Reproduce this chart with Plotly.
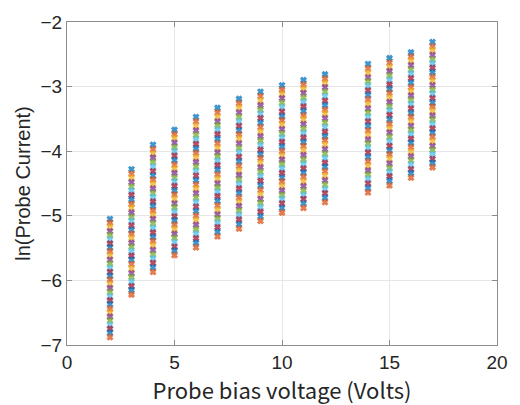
import plotly.graph_objects as go

voltages = [2, 3, 4, 5, 6, 7, 8, 9, 10, 11, 12, 14, 15, 16, 17]

col_2 = [-5.05, -5.11, -5.18, -5.24, -5.30, -5.37, -5.43, -5.49, -5.55, -5.62, -5.68, -5.74, -5.81, -5.87, -5.93,
         -5.99, -6.06, -6.12, -6.18, -6.25, -6.31, -6.37, -6.44, -6.50, -6.56, -6.62, -6.69, -6.75, -6.81, -6.88]
col_3 = [-4.28, -4.35, -4.41, -4.48, -4.55, -4.61, -4.68, -4.75, -4.82, -4.88, -4.95, -5.02, -5.08, -5.15, -5.22,
         -5.28, -5.35, -5.42, -5.48, -5.55, -5.62, -5.68, -5.75, -5.82, -5.89, -5.95, -6.02, -6.09, -6.15, -6.22]
col_4 = [-3.90, -3.97, -4.04, -4.10, -4.17, -4.24, -4.31, -4.38, -4.44, -4.51, -4.58, -4.65, -4.71, -4.78, -4.85,
         -4.92, -4.99, -5.05, -5.12, -5.19, -5.26, -5.33, -5.39, -5.46, -5.53, -5.60, -5.66, -5.73, -5.80, -5.87]
col_5 = [-3.67, -3.74, -3.80, -3.87, -3.94, -4.00, -4.07, -4.14, -4.21, -4.27, -4.34, -4.41, -4.47, -4.54, -4.61,
         -4.67, -4.74, -4.81, -4.87, -4.94, -5.01, -5.07, -5.14, -5.21, -5.28, -5.34, -5.41, -5.48, -5.54, -5.61]
col_6 = [-3.47, -3.54, -3.61, -3.68, -3.75, -3.82, -3.89, -3.96, -4.03, -4.10, -4.17, -4.24, -4.31, -4.38, -4.45,
         -4.52, -4.58, -4.65, -4.72, -4.79, -4.86, -4.93, -5.00, -5.07, -5.14, -5.21, -5.28, -5.35, -5.42, -5.49]
col_7 = [-3.33, -3.40, -3.47, -3.54, -3.60, -3.67, -3.74, -3.81, -3.88, -3.95, -4.02, -4.08, -4.15, -4.22, -4.29,
         -4.36, -4.43, -4.50, -4.56, -4.63, -4.70, -4.77, -4.84, -4.91, -4.98, -5.04, -5.11, -5.18, -5.25, -5.32]
col_8 = [-3.19, -3.26, -3.33, -3.40, -3.47, -3.54, -3.61, -3.68, -3.74, -3.81, -3.88, -3.95, -4.02, -4.09, -4.16,
         -4.23, -4.30, -4.37, -4.44, -4.51, -4.58, -4.65, -4.72, -4.79, -4.85, -4.92, -4.99, -5.06, -5.13, -5.20]
col_9 = [-3.08, -3.15, -3.22, -3.29, -3.36, -3.42, -3.49, -3.56, -3.63, -3.70, -3.77, -3.84, -3.91, -3.98, -4.05,
         -4.11, -4.18, -4.25, -4.32, -4.39, -4.46, -4.53, -4.60, -4.67, -4.74, -4.80, -4.87, -4.94, -5.01, -5.08]
col_10 = [-2.98, -3.05, -3.12, -3.18, -3.25, -3.32, -3.39, -3.46, -3.52, -3.59, -3.66, -3.73, -3.79, -3.86, -3.93,
          -4.00, -4.07, -4.13, -4.20, -4.27, -4.34, -4.41, -4.47, -4.54, -4.61, -4.68, -4.74, -4.81, -4.88, -4.95]
col_11 = [-2.90, -2.97, -3.04, -3.10, -3.17, -3.24, -3.31, -3.38, -3.45, -3.51, -3.58, -3.65, -3.72, -3.79, -3.86,
          -3.92, -3.99, -4.06, -4.13, -4.20, -4.27, -4.33, -4.40, -4.47, -4.54, -4.61, -4.68, -4.74, -4.81, -4.88]
col_12 = [-2.81, -2.88, -2.95, -3.01, -3.08, -3.15, -3.22, -3.29, -3.36, -3.42, -3.49, -3.56, -3.63, -3.70, -3.77,
          -3.83, -3.90, -3.97, -4.04, -4.11, -4.18, -4.24, -4.31, -4.38, -4.45, -4.52, -4.59, -4.65, -4.72, -4.79]
col_14 = [-2.65, -2.72, -2.79, -2.86, -2.92, -2.99, -3.06, -3.13, -3.20, -3.27, -3.34, -3.40, -3.47, -3.54, -3.61,
          -3.68, -3.75, -3.82, -3.88, -3.95, -4.02, -4.09, -4.16, -4.23, -4.30, -4.36, -4.43, -4.50, -4.57, -4.64]
col_15 = [-2.56, -2.63, -2.70, -2.76, -2.83, -2.90, -2.97, -3.04, -3.10, -3.17, -3.24, -3.31, -3.37, -3.44, -3.51,
          -3.58, -3.65, -3.71, -3.78, -3.85, -3.92, -3.99, -4.05, -4.12, -4.19, -4.26, -4.32, -4.39, -4.46, -4.53]
col_16 = [-2.47, -2.54, -2.60, -2.67, -2.74, -2.80, -2.87, -2.94, -3.01, -3.07, -3.14, -3.21, -3.27, -3.34, -3.41,
          -3.47, -3.54, -3.61, -3.67, -3.74, -3.81, -3.87, -3.94, -4.01, -4.08, -4.14, -4.21, -4.28, -4.34, -4.41]
col_17 = [-2.31, -2.38, -2.44, -2.51, -2.58, -2.64, -2.71, -2.78, -2.85, -2.91, -2.98, -3.05, -3.11, -3.18, -3.25,
          -3.31, -3.38, -3.45, -3.51, -3.58, -3.65, -3.71, -3.78, -3.85, -3.92, -3.98, -4.05, -4.12, -4.18, -4.25]

columns = [col_2, col_3, col_4, col_5, col_6, col_7, col_8, col_9, col_10, col_11, col_12,
           col_14, col_15, col_16, col_17]

matlab_colors = ["#0072BD", "#D95319", "#EDB120", "#7E2F8E", "#77AC30", "#4DBEEE", "#A2142F"]

fig = go.Figure()
n_series = len(col_2)
for j in range(n_series):
    fig.add_trace(go.Scatter(
        x=voltages,
        y=[c[j] for c in columns],
        mode="markers",
        marker=dict(symbol="x-thin", size=5, line=dict(width=3, color=matlab_colors[j % 7])),
        opacity=0.75,
        showlegend=False,
        hoverinfo="skip",
    ))

axis_common = dict(
    showline=True, mirror="ticks", linecolor="#8c8c8c", linewidth=1,
    showgrid=True, gridcolor="#e6e6e6", gridwidth=1,
    ticks="inside", ticklen=5, tickcolor="#8c8c8c",
    zeroline=False,
    tickfont=dict(family="Liberation Sans", size=19, color="#262626"),
)

fig.update_xaxes(range=[0, 20], tickvals=[0, 5, 10, 15, 20],
                 title_text="Probe bias voltage (Volts)", title_standoff=2,
                 title_font=dict(family="Noto Sans CJK JP", size=22, color="#262626"),
                 **axis_common)
fig.update_yaxes(range=[-7, -2], tickvals=[-7, -6, -5, -4, -3, -2],
                 title_text="ln(Probe Current)", title_standoff=4,
                 title_font=dict(family="Liberation Sans", size=20, color="#262626"),
                 **axis_common)

fig.update_layout(
    width=520, height=405,
    margin=dict(l=67, r=13, t=17, b=60),
    paper_bgcolor="white", plot_bgcolor="white",
)

fig.write_html("out.html")
